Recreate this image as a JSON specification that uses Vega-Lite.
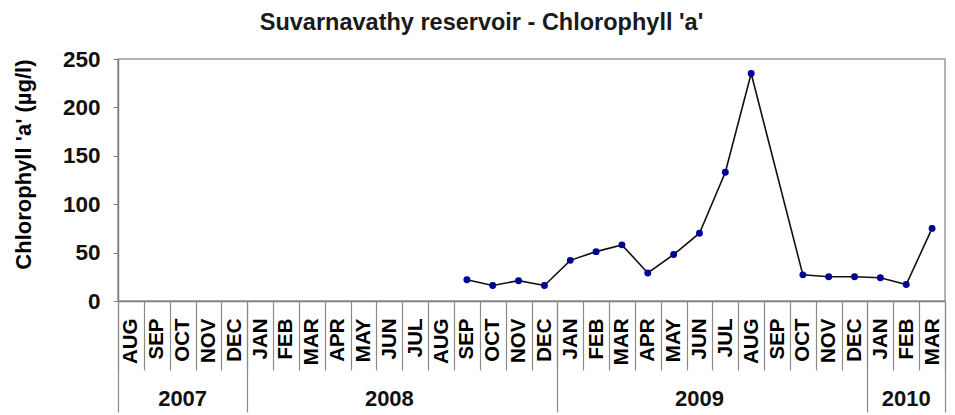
{
  "$schema": "https://vega.github.io/schema/vega-lite/v6.json",
  "autosize": {"type": "none"},
  "width": 827,
  "height": 242,
  "padding": {"left": 118, "top": 59, "right": 10, "bottom": 114},
  "background": "white",
  "config": {
    "font": "Liberation Sans",
    "view": {"stroke": "#9a9a9a", "strokeWidth": 1.5}
  },
  "title": {
    "text": "Suvarnavathy reservoir - Chlorophyll 'a'",
    "fontSize": 23.5,
    "fontWeight": "bold",
    "color": "#1a1a1a",
    "anchor": "middle",
    "dx": -50,
    "offset": 14
  },
  "data": {
    "values": [
      {"month": "SEP 2008", "chl": 22},
      {"month": "OCT 2008", "chl": 16},
      {"month": "NOV 2008", "chl": 21},
      {"month": "DEC 2008", "chl": 16},
      {"month": "JAN 2009", "chl": 42},
      {"month": "FEB 2009", "chl": 51},
      {"month": "MAR 2009", "chl": 58},
      {"month": "APR 2009", "chl": 29},
      {"month": "MAY 2009", "chl": 48},
      {"month": "JUN 2009", "chl": 70},
      {"month": "JUL 2009", "chl": 133},
      {"month": "AUG 2009", "chl": 235},
      {"month": "OCT 2009", "chl": 27},
      {"month": "NOV 2009", "chl": 25},
      {"month": "DEC 2009", "chl": 25},
      {"month": "JAN 2010", "chl": 24},
      {"month": "FEB 2010", "chl": 17},
      {"month": "MAR 2010", "chl": 75}
    ]
  },
  "encoding": {
    "y": {
      "field": "chl",
      "type": "quantitative",
      "scale": {"domain": [0, 250], "nice": false},
      "axis": {
        "title": "Chlorophyll 'a' (µg/l)",
        "titleFontSize": 22,
        "titleFontWeight": "bold",
        "titleColor": "#000000",
        "titleAnchor": "end",
        "titlePadding": 27,
        "values": [0, 50, 100, 150, 200, 250],
        "labelFontSize": 22.5,
        "labelFontWeight": "bold",
        "labelColor": "#111111",
        "labelPadding": 13,
        "tickSize": 5,
        "tickColor": "#808080",
        "domainColor": "#808080",
        "domainWidth": 1.5,
        "grid": false
      }
    }
  },
  "layer": [
    {
      "mark": {
        "type": "line",
        "color": "#111111",
        "strokeWidth": 1.6,
        "point": {"filled": true, "color": "#000099", "size": 48, "opacity": 1}
      },
      "encoding": {
        "x": {
          "field": "month",
          "type": "ordinal",
          "scale": {
            "type": "band",
            "paddingInner": 0,
            "paddingOuter": 0,
            "domain": ["AUG 2007","SEP 2007","OCT 2007","NOV 2007","DEC 2007","JAN 2008","FEB 2008","MAR 2008","APR 2008","MAY 2008","JUN 2008","JUL 2008","AUG 2008","SEP 2008","OCT 2008","NOV 2008","DEC 2008","JAN 2009","FEB 2009","MAR 2009","APR 2009","MAY 2009","JUN 2009","JUL 2009","AUG 2009","SEP 2009","OCT 2009","NOV 2009","DEC 2009","JAN 2010","FEB 2010","MAR 2010"]
          },
          "axis": {
            "orient": "bottom",
            "title": null,
            "ticks": true,
            "tickBand": "extent",
            "labelAngle": -90,
            "labelAlign": "right",
            "labelBaseline": "middle",
            "labelExpr": "isValid(datum.value) ? split(datum.value, ' ')[0] : ''",
            "labelFontSize": 20.5,
            "labelFontWeight": "bold",
            "labelColor": "#000000",
            "labelPadding": -52,
            "labelOverlap": false,
            "tickSize": 69,
            "tickColor": "#8a8a8a",
            "tickWidth": 1.2,
            "tickOpacity": 1,
            "domainColor": "#808080",
            "domainWidth": 1.5,
            "grid": false
          }
        }
      }
    },
    {
      "mark": {"type": "point", "opacity": 0},
      "encoding": {
        "x": {
          "field": "month",
          "type": "ordinal",
          "scale": {
            "type": "band",
            "paddingInner": 0,
            "paddingOuter": 0,
            "domain": ["AUG 2007","SEP 2007","OCT 2007","NOV 2007","DEC 2007","JAN 2008","FEB 2008","MAR 2008","APR 2008","MAY 2008","JUN 2008","JUL 2008","AUG 2008","SEP 2008","OCT 2008","NOV 2008","DEC 2008","JAN 2009","FEB 2009","MAR 2009","APR 2009","MAY 2009","JUN 2009","JUL 2009","AUG 2009","SEP 2009","OCT 2009","NOV 2009","DEC 2009","JAN 2010","FEB 2010","MAR 2010"]
          },
          "axis": {
            "orient": "bottom",
            "title": null,
            "ticks": true,
            "bandPosition": 0,
            "values": ["AUG 2007", "JAN 2008", "JAN 2009", "JAN 2010"],
            "labels": false,
            "domain": false,
            "tickSize": 111,
            "tickColor": "#8a8a8a",
            "tickWidth": 1.2,
            "grid": false
          }
        }
      }
    },
    {
      "mark": {"type": "point", "opacity": 0},
      "encoding": {
        "x": {
          "field": "month",
          "type": "ordinal",
          "scale": {
            "type": "band",
            "paddingInner": 0,
            "paddingOuter": 0,
            "domain": ["AUG 2007","SEP 2007","OCT 2007","NOV 2007","DEC 2007","JAN 2008","FEB 2008","MAR 2008","APR 2008","MAY 2008","JUN 2008","JUL 2008","AUG 2008","SEP 2008","OCT 2008","NOV 2008","DEC 2008","JAN 2009","FEB 2009","MAR 2009","APR 2009","MAY 2009","JUN 2009","JUL 2009","AUG 2009","SEP 2009","OCT 2009","NOV 2009","DEC 2009","JAN 2010","FEB 2010","MAR 2010"]
          },
          "axis": {
            "orient": "bottom",
            "title": null,
            "ticks": true,
            "bandPosition": 1,
            "values": ["JUN 2008", "JUN 2009", "MAR 2010"],
            "labelExpr": "datum.value == 'MAR 2010' ? '' : split(datum.value, ' ')[1]",
            "labelAngle": 0,
            "labelAlign": "center",
            "labelBaseline": "top",
            "labelFontSize": 22,
            "labelFontWeight": "bold",
            "labelColor": "#111111",
            "labelPadding": -24,
            "labelOverlap": false,
            "tickSize": 111,
            "tickColor": "#8a8a8a",
            "tickWidth": 1.2,
            "tickOpacity": {"condition": {"test": "datum.value == 'MAR 2010'", "value": 1}, "value": 0},
            "domain": false,
            "grid": false
          }
        }
      }
    },
    {
      "mark": {"type": "point", "opacity": 0},
      "encoding": {
        "x": {
          "field": "month",
          "type": "ordinal",
          "scale": {
            "type": "band",
            "paddingInner": 0,
            "paddingOuter": 0,
            "domain": ["AUG 2007","SEP 2007","OCT 2007","NOV 2007","DEC 2007","JAN 2008","FEB 2008","MAR 2008","APR 2008","MAY 2008","JUN 2008","JUL 2008","AUG 2008","SEP 2008","OCT 2008","NOV 2008","DEC 2008","JAN 2009","FEB 2009","MAR 2009","APR 2009","MAY 2009","JUN 2009","JUL 2009","AUG 2009","SEP 2009","OCT 2009","NOV 2009","DEC 2009","JAN 2010","FEB 2010","MAR 2010"]
          },
          "axis": {
            "orient": "bottom",
            "title": null,
            "ticks": true,
            "bandPosition": 0.5,
            "values": ["OCT 2007", "FEB 2010"],
            "labelExpr": "split(datum.value, ' ')[1]",
            "labelAngle": 0,
            "labelAlign": "center",
            "labelBaseline": "top",
            "labelFontSize": 22,
            "labelFontWeight": "bold",
            "labelColor": "#111111",
            "labelPadding": -24,
            "labelOverlap": false,
            "tickSize": 111,
            "tickOpacity": 0,
            "domain": false,
            "grid": false
          }
        }
      }
    }
  ],
  "resolve": {"axis": {"x": "independent"}}
}
